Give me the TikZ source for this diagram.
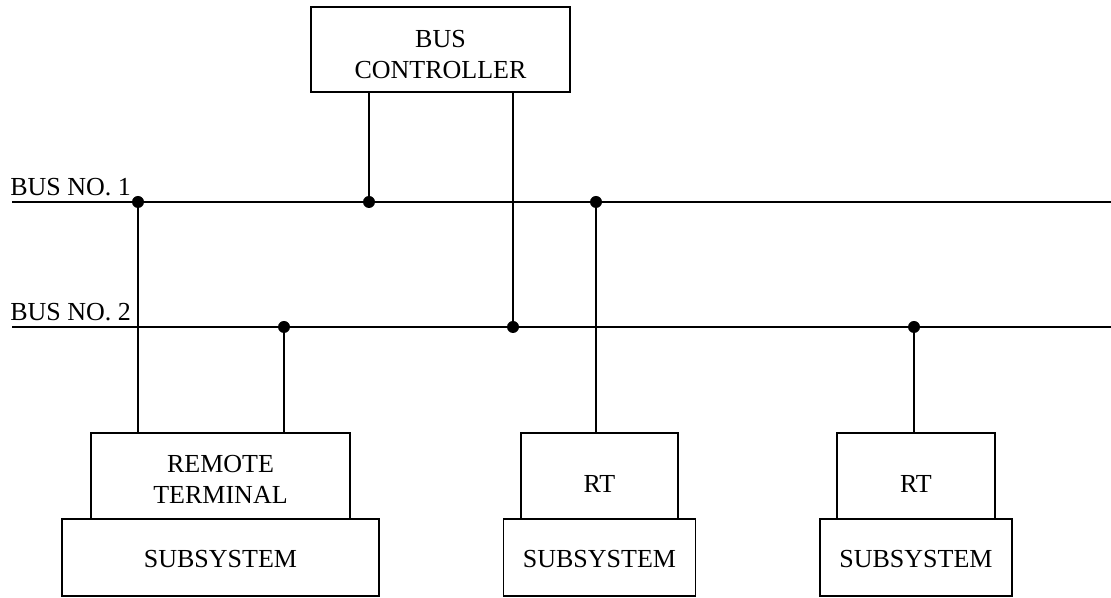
\documentclass[tikz,border=0pt]{standalone}
\usepackage{fontspec}
\setmainfont{Liberation Serif}
\usetikzlibrary{positioning}

\tikzset{
  box/.style={draw, line width=1.1pt, inner sep=0pt, outer sep=0pt},
  textdrop/.style={text height=#1, text depth=0pt},
  tap/.style={circle, fill, inner sep=0pt, minimum size=0.24cm},
  wire/.style={line width=1.1pt}
}
\newcommand{\twolines}[2]{\begin{tabular}[b]{@{}c@{}}#1\\#2\end{tabular}}

\begin{document}
\begin{tikzpicture}[every node/.style={font=\fontsize{14.8}{18.2}\selectfont}]
  \def\busone{7.92}
  \def\bustwo{5.42}
  \def\boxtop{3.30}
  \useasboundingbox (0,0) rectangle (22.22,11.96);

  % bus controller
  \node[box, textdrop=1.18cm, minimum width=5.18cm, minimum height=1.70cm] (bc) at (8.81,10.97) {\twolines{BUS}{CONTROLLER}};

  % the two buses
  \coordinate (b1w) at (0.24,\busone);
  \coordinate (b1e) at (22.22,\busone);
  \coordinate (b2w) at (0.24,\bustwo);
  \coordinate (b2e) at (22.22,\bustwo);
  \draw[wire] (b1w) -- (b1e);
  \draw[wire] (b2w) -- (b2e);
  \node[anchor=base west, inner sep=0pt] (lab1) at (0.2,8.04) {BUS NO. 1};
  \node[anchor=base west, inner sep=0pt] (lab2) at (0.2,5.54) {BUS NO. 2};

  % terminals and subsystems
  \node[box, textdrop=1.12cm, minimum width=5.18cm, minimum height=1.72cm, anchor=north] (rt1) at (4.41,\boxtop) {\twolines{REMOTE}{TERMINAL}};
  \node[box, textdrop=0.42cm, minimum width=6.34cm, minimum height=1.54cm, below=0pt of rt1] (sub1) {SUBSYSTEM};

  \node[box, textdrop=0.68cm, minimum width=3.14cm, minimum height=1.72cm, anchor=north] (rt2) at (11.99,\boxtop) {RT};
  \node[box, textdrop=0.42cm, minimum width=3.84cm, minimum height=1.54cm, below=0pt of rt2] (sub2) {SUBSYSTEM};

  \node[box, textdrop=0.68cm, minimum width=3.16cm, minimum height=1.72cm, anchor=north] (rt3) at (18.32,\boxtop) {RT};
  \node[box, textdrop=0.42cm, minimum width=3.84cm, minimum height=1.54cm, below=0pt of rt3] (sub3) {SUBSYSTEM};

  % taps on the buses
  \node[tap] (t1) at (2.76,\busone) {};
  \node[tap] (t2) at (7.38,\busone) {};
  \node[tap] (t3) at (11.92,\busone) {};
  \node[tap] (t4) at (5.68,\bustwo) {};
  \node[tap] (t5) at (10.26,\bustwo) {};
  \node[tap] (t6) at (18.28,\bustwo) {};

  \draw[wire] (bc.south -| t2) -- (t2.center);
  \draw[wire] (bc.south -| t5) -- (t5.center);
  \draw[wire] (t1.center) -- (t1 |- rt1.north);
  \draw[wire] (t4.center) -- (t4 |- rt1.north);
  \draw[wire] (t3.center) -- (t3 |- rt2.north);
  \draw[wire] (t6.center) -- (t6 |- rt3.north);
\end{tikzpicture}
\end{document}
